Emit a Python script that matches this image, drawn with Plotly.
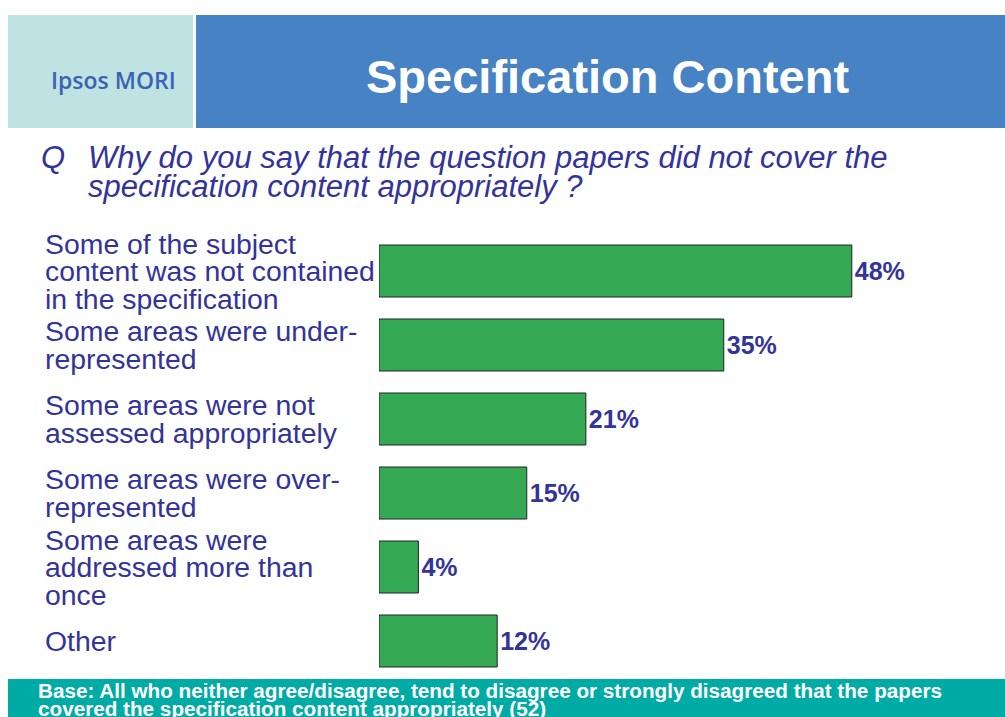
import plotly.graph_objects as go

# Survey responses (percent of respondents)
categories = [
    "Some of the subject<br>content was not contained<br>in the specification",
    "Some areas were under-<br>represented",
    "Some areas were not<br>assessed appropriately",
    "Some areas were over-<br>represented",
    "Some areas were<br>addressed more than<br>once",
    "Other",
]
values = [48, 35, 21, 15, 4, 12]
value_labels = ["48%", "35%", "21%", "15%", "4%", "12%"]

title_text = "Specification Content"
brand_text = "Ipsos MORI"
question_lines = [
    "Why do you say that the question papers did not cover the",
    "specification content appropriately ?",
]
base_lines = [
    "Base: All who neither agree/disagree, tend to disagree or strongly disagreed that the papers",
    "covered the specification content appropriately (52)",
]

W, H = 1005, 717
L, T = 379, 234
PLOT_W = 591
ROW = 74
PLOT_H = ROW * len(categories)
R = W - L - PLOT_W
B = H - T - PLOT_H

NAVY = "#33339A"
FONT = "Liberation Sans, Arial, Helvetica, sans-serif"


def px(x):
    return (x - L) / PLOT_W


def py(y):
    return (T + PLOT_H - y) / PLOT_H


fig = go.Figure(
    go.Bar(
        x=values,
        y=categories,
        orientation="h",
        marker=dict(color="#34A853", line=dict(color="#222222", width=1)),
        text=value_labels,
        textposition="outside",
        textfont=dict(family=FONT, size=25, color=NAVY, weight="bold"),
        cliponaxis=False,
        hoverinfo="skip",
    )
)

shapes = [
    dict(type="rect", xref="paper", yref="paper", x0=px(8), x1=px(193),
         y0=py(128), y1=py(15), fillcolor="#BFE2E2", line=dict(width=0), layer="below"),
    dict(type="rect", xref="paper", yref="paper", x0=px(196), x1=px(1005),
         y0=py(128), y1=py(15), fillcolor="#4682C4", line=dict(width=0), layer="below"),
    dict(type="rect", xref="paper", yref="paper", x0=px(8), x1=px(1005),
         y0=py(717), y1=py(679), fillcolor="#00ABA6", line=dict(width=0), layer="below"),
]

annotations = [
    dict(text=title_text, xref="paper", yref="paper", x=px(607), y=py(76),
         xanchor="center", yanchor="middle", showarrow=False,
         font=dict(family=FONT, size=47, color="white", weight="bold")),
    dict(text=brand_text, xref="paper", yref="paper", x=px(113), y=py(80),
         xanchor="center", yanchor="middle", showarrow=False,
         font=dict(family="Open Sans, Noto Sans, sans-serif", size=23,
                   color="#3A63B3", weight=600)),
    dict(text="Q", xref="paper", yref="paper", x=px(39), y=py(157),
         xanchor="left", yanchor="middle", showarrow=False,
         font=dict(family=FONT, size=31, color=NAVY, style="italic")),
]
for i, line in enumerate(question_lines):
    annotations.append(
        dict(text=line, xref="paper", yref="paper", x=px(86), y=py(157 + 29 * i),
             xanchor="left", yanchor="middle", showarrow=False,
             font=dict(family=FONT, size=31, color=NAVY, style="italic")))

# Category labels, left-aligned, one annotation per line for tight leading
LINE = 27.5
for cat in categories:
    parts = cat.split("<br>")
    n = len(parts)
    for i, part in enumerate(parts):
        annotations.append(
            dict(text=part, xref="paper", yref="y", x=px(43), y=cat,
                 yshift=((n - 1) / 2 - i) * LINE,
                 xanchor="left", yanchor="middle", showarrow=False,
                 font=dict(family=FONT, size=28.4, color=NAVY)))

for i, line in enumerate(base_lines):
    annotations.append(
        dict(text=line, xref="paper", yref="paper", x=px(36), y=py(690 + 18 * i),
             xanchor="left", yanchor="middle", showarrow=False,
             font=dict(family=FONT, size=20.7, color="white", weight="bold")))

fig.update_layout(
    width=W, height=H,
    margin=dict(l=L, r=R, t=T, b=B),
    paper_bgcolor="white", plot_bgcolor="white",
    bargap=22 / ROW,
    showlegend=False,
    shapes=shapes,
    annotations=annotations,
    xaxis=dict(range=[0, 60], visible=False, fixedrange=True),
    yaxis=dict(range=[len(categories) - 0.5, -0.5], autorange=False,
               showticklabels=False, showgrid=False,
               zeroline=False, showline=False, ticks="", fixedrange=True),
)

fig.write_html("out.html", config={"displayModeBar": False})
